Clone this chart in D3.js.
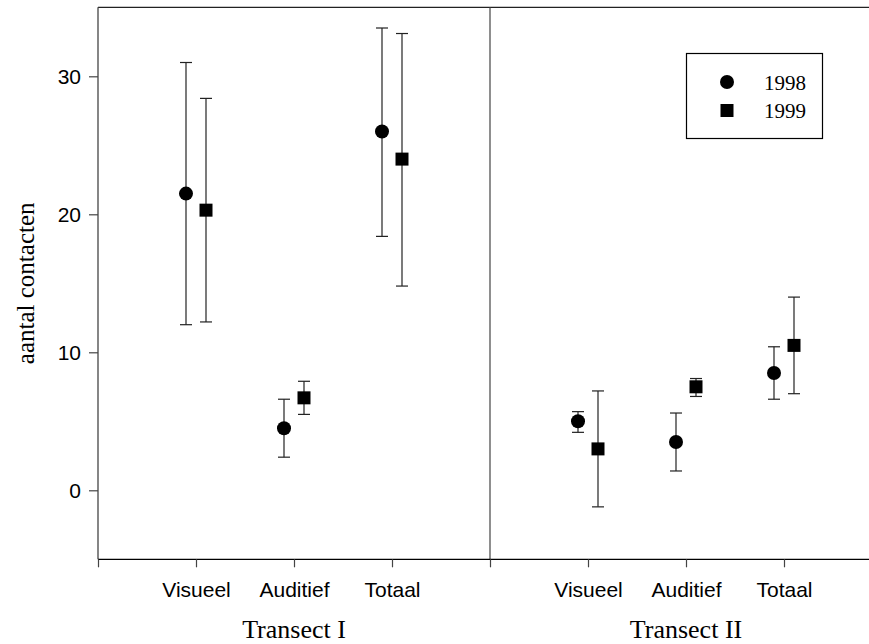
<!DOCTYPE html>
<html>
<head>
<meta charset="utf-8">
<script src="https://cdn.jsdelivr.net/npm/d3@7"></script>
<style>
  body { margin: 0; background: #fff; }
  svg { display: block; }
</style>
</head>
<body>
<div id="chart"></div>
<script>
// data
var categories = ["Visueel", "Auditief", "Totaal"];
var transects = ["Transect I", "Transect II"];
var years = ["1998", "1999"];

var mean1998 = [21.5, 4.5, 26.0, 5.0, 3.5, 8.5];
var hi1998   = [31.0, 6.6, 33.5, 5.7, 5.6, 10.4];
var lo1998   = [12.0, 2.4, 18.4, 4.2, 1.4, 6.6];

var mean1999 = [20.3, 6.7, 24.0, 3.0, 7.5, 10.5];
var hi1999   = [28.4, 7.9, 33.1, 7.2, 8.1, 14.0];
var lo1999   = [12.2, 5.5, 14.8, -1.2, 6.8, 7.0];

var yTicks = [0, 10, 20, 30];

// general variables
var width = 869, height = 644;
var plotLeft = 98, plotRight = 882, plotTop = 7.3, plotBottom = 559.3;

var svg = d3.select("#chart").append("svg")
  .attr("width", width)
  .attr("height", height);

var x = d3.scaleLinear().domain([0, 8]).range([plotLeft, plotRight]);
var y = d3.scaleLinear().domain([-5, 35]).range([plotBottom, plotTop]);

// position of category i in transect t
function slot(t, i) { return t * 4 + i + 1; }

var points = [];
transects.forEach(function(tr, t) {
  categories.forEach(function(c, i) {
    var k = t * 3 + i;
    points.push({year: 0, pos: slot(t, i), mean: mean1998[k], hi: hi1998[k], lo: lo1998[k]});
    points.push({year: 1, pos: slot(t, i), mean: mean1999[k], hi: hi1999[k], lo: lo1999[k]});
  });
});

// frame
svg.append("line")
  .attr("x1", plotLeft).attr("x2", plotRight)
  .attr("y1", plotTop).attr("y2", plotTop)
  .attr("stroke", "#222").attr("stroke-width", 1.3);
svg.append("line")
  .attr("x1", x(4)).attr("x2", x(4))
  .attr("y1", plotTop).attr("y2", plotBottom)
  .attr("stroke", "#444").attr("stroke-width", 1.2);

// axes
var yAxis = d3.axisLeft(y).tickValues(yTicks).tickSize(9).tickPadding(8);
var gy = svg.append("g")
  .attr("transform", "translate(" + plotLeft + ",0)")
  .call(yAxis);
gy.select(".domain").attr("d", "M0," + plotTop + "V" + plotBottom).attr("stroke", "#444").attr("stroke-width", 1.3);
gy.selectAll(".tick line").attr("stroke", "#444").attr("stroke-width", 1.2);
gy.selectAll(".tick text")
  .attr("font-family", "Liberation Sans, Arial, sans-serif")
  .attr("font-size", 21)
  .attr("fill", "#000");

var xAxis = d3.axisBottom(x).tickValues(d3.range(0, 9)).tickSize(8)
  .tickFormat(function(d) { return d % 4 === 0 ? "" : categories[(d % 4) - 1]; })
  .tickPadding(15);
var gx = svg.append("g")
  .attr("transform", "translate(0," + plotBottom + ")")
  .call(xAxis);
gx.select(".domain").attr("d", "M" + plotLeft + ",0H" + plotRight).attr("stroke", "#000").attr("stroke-width", 1.3);
gx.selectAll(".tick line").attr("stroke", "#444").attr("stroke-width", 1.2);
gx.selectAll(".tick text")
  .attr("font-family", "Liberation Sans, Arial, sans-serif")
  .attr("font-size", 21)
  .attr("fill", "#000");

// transect labels
svg.selectAll(".transect")
  .data(transects)
  .enter().append("text")
  .attr("class", "transect")
  .attr("x", function(d, t) { return x(t * 4 + 2); })
  .attr("y", 638)
  .attr("text-anchor", "middle")
  .attr("font-family", "Liberation Serif, Times New Roman, serif")
  .attr("font-size", 26)
  .text(function(d) { return d; });

// y label
svg.append("text")
  .attr("transform", "translate(34," + ((plotTop + plotBottom) / 2) + ") rotate(-90)")
  .attr("text-anchor", "middle")
  .attr("font-family", "Liberation Serif, Times New Roman, serif")
  .attr("font-size", 25)
  .text("aantal contacten");

// error bars
var off = 10, cap = 6;
function px(d) { return x(d.pos) + (d.year === 0 ? -off : off); }

var bars = svg.append("g").selectAll("g")
  .data(points)
  .enter().append("g")
  .attr("stroke", "#222")
  .attr("stroke-width", 1.2);

bars.append("line")
  .attr("x1", px).attr("x2", px)
  .attr("y1", function(d) { return y(d.hi); })
  .attr("y2", function(d) { return y(d.lo); });
bars.append("line")
  .attr("x1", function(d) { return px(d) - cap; })
  .attr("x2", function(d) { return px(d) + cap; })
  .attr("y1", function(d) { return y(d.hi); })
  .attr("y2", function(d) { return y(d.hi); });
bars.append("line")
  .attr("x1", function(d) { return px(d) - cap; })
  .attr("x2", function(d) { return px(d) + cap; })
  .attr("y1", function(d) { return y(d.lo); })
  .attr("y2", function(d) { return y(d.lo); });

// markers
var circleSym = d3.symbol().type(d3.symbolCircle).size(Math.PI * 7 * 7);
var squareSym = d3.symbol().type(d3.symbolSquare).size(13 * 13);

svg.append("g").selectAll("path")
  .data(points)
  .enter().append("path")
  .attr("transform", function(d) { return "translate(" + px(d) + "," + y(d.mean) + ")"; })
  .attr("d", function(d) { return d.year === 0 ? circleSym() : squareSym(); })
  .attr("fill", "#000");

// legend
var legend = svg.append("g");
legend.append("rect")
  .attr("x", 686.5).attr("y", 53.5)
  .attr("width", 136).attr("height", 85)
  .attr("fill", "#fff")
  .attr("stroke", "#000").attr("stroke-width", 1.2);

var items = legend.selectAll("g.item")
  .data(years)
  .enter().append("g")
  .attr("class", "item")
  .attr("transform", function(d, i) { return "translate(727," + (82 + i * 28.5) + ")"; });

items.append("path")
  .attr("d", function(d, i) { return i === 0 ? circleSym() : squareSym(); })
  .attr("fill", "#000");
items.append("text")
  .attr("x", 37)
  .attr("y", 7.5)
  .attr("font-family", "Liberation Serif, Times New Roman, serif")
  .attr("font-size", 21)
  .text(function(d) { return d; });
</script>
</body>
</html>
